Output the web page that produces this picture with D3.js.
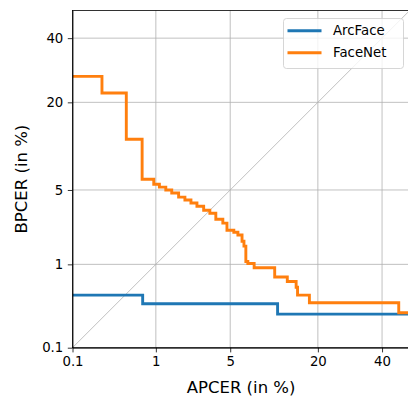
<!doctype html>
<meta charset=utf8>
<title>DET curve</title>
<style>
  body { margin: 0; background: white; }
  svg { display: block; font-family: "DejaVu Sans", sans-serif; }
  .grid line { stroke: #b0b0b0; stroke-width: 0.8; }
  .axis path, .axis line { stroke: black; stroke-width: 0.8; }
  .axis text { font-size: 13.3px; fill: black; font-family: "DejaVu Sans", sans-serif; }
  .curve { fill: none; stroke-width: 2.9; }
  .label { font-size: 16.5px; fill: black; }
  .legend text { font-size: 13.3px; fill: black; }
</style>
<svg width=408 height=400></svg>
<script src=https://d3js.org/d3.v7.min.js></script>
<script>
  // tick values and labels (in %)
  var ticks = [0.1, 1, 5, 20, 40];
  var tickLabels = ['0.1', '1', '5', '20', '40'];
  var limits = [0.1, 50];

  // ArcFace DET curve (APCER %, BPCER %), start of each horizontal step
  var arcfaceApcer = [0.1, 0.72, 11.3];
  var arcfaceBpcer = [0.455, 0.36, 0.27];

  // FaceNet DET curve
  var facenetApcer = [0.1, 0.24, 0.47, 0.71, 0.95, 1.09, 1.27, 1.46, 1.71, 1.97,
    2.25, 2.56, 2.95, 3.35, 3.78, 4.34, 4.70, 5.35, 5.77, 6.22,
    6.44, 6.66, 6.9, 7.7, 10.8, 13.1, 14.9, 15.2, 17.9, 46.0];
  var facenetBpcer = [27.3, 22.5, 11.9, 6.1, 5.56, 5.28, 5.0, 4.72, 4.36, 4.12,
    3.88, 3.64, 3.36, 3.16, 2.79, 2.57, 2.2, 2.11, 1.98, 1.72,
    1.54, 1.07, 1.02, 0.92, 0.73, 0.65, 0.56, 0.455, 0.37, 0.28];

  var series = [
    { name: 'ArcFace', color: '#1f77b4', apcer: arcfaceApcer, bpcer: arcfaceBpcer },
    { name: 'FaceNet', color: '#ff7f0e', apcer: facenetApcer, bpcer: facenetBpcer }
  ];

  // inverse normal CDF (Acklam), used for the DET (probit) axes
  function probit(p) {
    var a = [-39.69683028665376, 220.9460984245205, -275.9285104469687, 138.3577518672690, -30.66479806614716, 2.506628277459239];
    var b = [-54.47609879822406, 161.5858368580409, -155.6989798598866, 66.80131188771972, -13.28068155288572];
    var c = [-0.007784894002430293, -0.3223964580411365, -2.400758277161838, -2.549732539343734, 4.374664141464968, 2.938163982698783];
    var d = [0.007784695709041462, 0.3224671290700398, 2.445134137142996, 3.754408661907416];
    var q, r;
    if (p < 0.02425) {
      q = Math.sqrt(-2 * Math.log(p));
      return (((((c[0] * q + c[1]) * q + c[2]) * q + c[3]) * q + c[4]) * q + c[5]) /
        ((((d[0] * q + d[1]) * q + d[2]) * q + d[3]) * q + 1);
    }
    if (p > 1 - 0.02425) return -probit(1 - p);
    q = p - 0.5;
    r = q * q;
    return (((((a[0] * r + a[1]) * r + a[2]) * r + a[3]) * r + a[4]) * r + a[5]) * q /
      (((((b[0] * r + b[1]) * r + b[2]) * r + b[3]) * r + b[4]) * r + 1);
  }
  function pz(v) { return probit(v / 100); }

  var svg = d3.select('svg');
  var plotLeft = 72.5, plotTop = 10.5, size = 337.2;

  var x = d3.scaleLinear().domain(limits.map(pz)).range([plotLeft, plotLeft + size]);
  var y = d3.scaleLinear().domain(limits.map(pz)).range([plotTop + size, plotTop]);

  svg.append('defs').append('clipPath').attr('id', 'clip')
    .append('rect').attr('x', plotLeft).attr('y', plotTop).attr('width', size).attr('height', size);

  // grid
  var grid = svg.append('g').attr('class', 'grid');
  grid.selectAll('.gx').data(ticks).enter().append('line').attr('class', 'gx')
    .attr('x1', function(d) { return x(pz(d)); })
    .attr('x2', function(d) { return x(pz(d)); })
    .attr('y1', plotTop).attr('y2', plotTop + size);
  grid.selectAll('.gy').data(ticks).enter().append('line').attr('class', 'gy')
    .attr('y1', function(d) { return y(pz(d)); })
    .attr('y2', function(d) { return y(pz(d)); })
    .attr('x1', plotLeft).attr('x2', plotLeft + size);

  // chance diagonal
  svg.append('line')
    .attr('x1', x(pz(limits[0]))).attr('y1', y(pz(limits[0])))
    .attr('x2', x(pz(limits[1]))).attr('y2', y(pz(limits[1])))
    .attr('stroke', '#b0b0b0').attr('stroke-width', 0.8);

  var line = d3.line()
    .curve(d3.curveStepAfter)
    .x(function(d) { return x(pz(d[0])); })
    .y(function(d) { return y(pz(d[1])); });

  svg.append('g').attr('clip-path', 'url(#clip)')
    .selectAll('path').data(series).enter().append('path')
    .attr('class', 'curve')
    .attr('stroke', function(d) { return d.color; })
    .attr('d', function(d) {
      var pts = d.apcer.map(function(a, i) { return [a, d.bpcer[i]]; });
      pts.push([limits[1], d.bpcer[d.bpcer.length - 1]]);
      return line(pts);
    });

  // axes
  function fmt(v) { return tickLabels[ticks.findIndex(function(t) { return Math.abs(pz(t) - v) < 1e-9; })]; }
  svg.append('g').attr('class', 'axis')
    .attr('transform', 'translate(0,' + (plotTop + size) + ')')
    .call(d3.axisBottom(x).tickValues(ticks.map(pz)).tickFormat(fmt).tickSize(4.7).tickPadding(4.5).tickSizeOuter(0));
  svg.append('g').attr('class', 'axis')
    .attr('transform', 'translate(' + plotLeft + ',0)')
    .call(d3.axisLeft(y).tickValues(ticks.map(pz)).tickFormat(fmt).tickSize(4.7).tickPadding(4.5).tickSizeOuter(0));
  svg.selectAll('.axis text').attr('font-size', null).attr('font-family', null);

  // frame
  svg.append('rect').attr('x', plotLeft).attr('y', plotTop).attr('width', size).attr('height', size)
    .attr('fill', 'none').attr('stroke', 'black').attr('stroke-width', 0.8);

  svg.append('text').attr('class', 'label')
    .attr('x', plotLeft + size / 2).attr('y', 393).attr('text-anchor', 'middle')
    .text('APCER (in %)');
  svg.append('text').attr('class', 'label')
    .attr('transform', 'translate(26.5,' + (plotTop + size / 2) + ') rotate(-90)')
    .attr('text-anchor', 'middle')
    .text('BPCER (in %)');

  // legend
  var legend = svg.append('g').attr('class', 'legend');
  legend.append('rect').attr('x', 283.5).attr('y', 18.5).attr('width', 120).attr('height', 50)
    .attr('rx', 3).attr('fill', 'white').attr('fill-opacity', 0.8)
    .attr('stroke', '#cccccc').attr('stroke-width', 0.8);
  var item = legend.selectAll('.item').data(series).enter().append('g')
    .attr('transform', function(d, i) { return 'translate(0,' + (30.7 + i * 22) + ')'; });
  item.append('line').attr('x1', 287.5).attr('x2', 321.5)
    .attr('stroke', function(d) { return d.color; }).attr('stroke-width', 2.9);
  item.append('text').attr('x', 333).attr('dy', '0.35em').text(function(d) { return d.name; });
</script>
